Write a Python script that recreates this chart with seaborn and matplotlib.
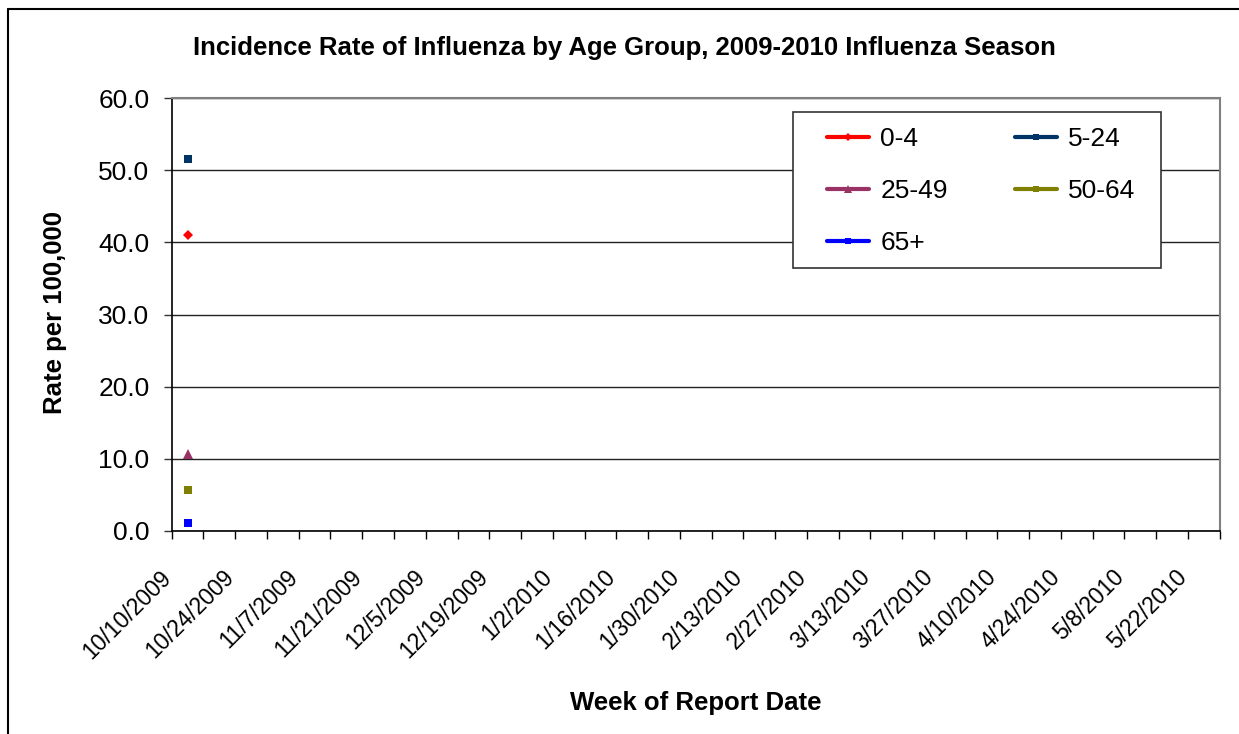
import numpy as np
import pandas as pd
import matplotlib
matplotlib.use('Agg')
import matplotlib.pyplot as plt
import seaborn as sns
from matplotlib.lines import Line2D
from matplotlib.patches import Rectangle
from matplotlib.transforms import ScaledTranslation

# weekly report dates on the category axis
weeks = ['10/10/2009', '10/17/2009', '10/24/2009', '10/31/2009', '11/7/2009',
         '11/14/2009', '11/21/2009', '11/28/2009', '12/5/2009', '12/12/2009',
         '12/19/2009', '12/26/2009', '1/2/2010', '1/9/2010', '1/16/2010',
         '1/23/2010', '1/30/2010', '2/6/2010', '2/13/2010', '2/20/2010',
         '2/27/2010', '3/6/2010', '3/13/2010', '3/20/2010', '3/27/2010',
         '4/3/2010', '4/10/2010', '4/17/2010', '4/24/2010', '5/1/2010',
         '5/8/2010', '5/15/2010', '5/22/2010']

# only the first week has been reported so far
reported = ['10/10/2009']
groups = ['0-4', '5-24', '25-49', '50-64', '65+']
rate_0_4 = [41.0]
rate_5_24 = [51.6]
rate_25_49 = [10.7]
rate_50_64 = [5.7]
rate_65 = [1.1]

colors = {'0-4': '#FF0000', '5-24': '#003366', '25-49': '#993366',
          '50-64': '#808000', '65+': '#0000FF'}
markers = {'0-4': 'D', '5-24': 's', '25-49': '^', '50-64': 's', '65+': 's'}
msizes = {'0-4': 5, '5-24': 5.5, '25-49': 6.5, '50-64': 5.5, '65+': 5.5}

rows = []
for g, vals in zip(groups, [rate_0_4, rate_5_24, rate_25_49, rate_50_64, rate_65]):
    for w, v in zip(reported, vals):
        rows.append({'week': w, 'pos': weeks.index(w), 'rate': v, 'group': g})
df = pd.DataFrame(rows)

sns.set_style('white')
plt.rcParams['font.family'] = ['Liberation Sans', 'DejaVu Sans']
plt.rcParams['text.color'] = 'black'
plt.rcParams['xtick.color'] = 'black'
plt.rcParams['ytick.color'] = 'black'
plt.rcParams['axes.labelcolor'] = 'black'

fig = plt.figure(figsize=(12.39, 7.34), dpi=100)
ax = fig.add_axes([171.7 / 1239, 1 - 531 / 734, 1048 / 1239, 433 / 734])

for g in groups:
    sub = df[df['group'] == g]
    sns.lineplot(data=sub, x='pos', y='rate', ax=ax, color=colors[g],
                 marker=markers[g], markersize=msizes[g], markeredgewidth=0,
                 linewidth=2.5, legend=False)

ax.set_xlim(-0.5, len(weeks) - 0.5)
ax.set_ylim(0, 60)
ax.set_yticks(np.arange(0, 61, 10))
ax.set_yticklabels([f'{v:.1f}' for v in np.arange(0, 61, 10)], fontsize=19)
ax.yaxis.grid(True, color='#222222', linewidth=1)
ax.set_axisbelow(True)

pos = np.arange(0, len(weeks), 2)
ax.set_xticks(pos)
ax.set_xticklabels([weeks[i] for i in pos], rotation=45, ha='right', va='top', fontsize=16.5)
ax.set_xticks(np.arange(-0.5, len(weeks)), minor=True)
ax.tick_params(axis='x', which='major', length=0, pad=25)
ax.tick_params(axis='x', which='minor', length=6, width=1, color='black', direction='out', bottom=True)
ax.tick_params(axis='y', length=6, width=1, color='#333333', direction='out', left=True, pad=10)
off = ScaledTranslation(-12 / 100, 0, fig.dpi_scale_trans)
for lab in ax.get_xticklabels():
    lab.set_transform(lab.get_transform() + off)

ax.set_xlabel('')
ax.set_ylabel('')
for s in ['left', 'bottom']:
    ax.spines[s].set_color('black')
    ax.spines[s].set_linewidth(1.2)
for s in ['top', 'right']:
    ax.spines[s].set_color('#808080')
    ax.spines[s].set_linewidth(1.5)

# legend, filled row by row like the original
order = ['0-4', '25-49', '65+', '5-24', '50-64']
handles = [Line2D([0], [0], color=colors[g], marker=markers[g], markersize=msizes[g] - 1,
                  markeredgewidth=0, linewidth=3) for g in order]
leg = ax.legend(handles, order, ncol=2, frameon=False, fontsize=19,
                loc='upper left', bbox_to_anchor=(0.6253, 0.932),
                borderpad=0, borderaxespad=0, handlelength=1.6,
                handletextpad=0.42, columnspacing=2.54, labelspacing=1.06)
ax.add_patch(Rectangle((0.5933, 0.6074), 0.3511, 0.3603, transform=ax.transAxes,
                       fill=True, facecolor='white', edgecolor='#333333',
                       linewidth=1.2, zorder=4))
leg.set_zorder(5)

fig.text(624 / 1239, 1 - 48 / 734, 'Incidence Rate of Influenza by Age Group, 2009-2010 Influenza Season',
         ha='center', va='center', fontsize=18.5, fontweight='bold')
fig.text(55 / 1239, 1 - 312 / 734, 'Rate per 100,000', rotation=90,
         ha='center', va='center', fontsize=18.5, fontweight='bold')
fig.text(696 / 1239, 1 - 703 / 734, 'Week of Report Date',
         ha='center', va='center', fontsize=18.5, fontweight='bold')

# outer chart frame
fig.add_artist(Line2D([8 / 1239, 1], [1 - 9 / 734, 1 - 9 / 734], transform=fig.transFigure,
                      color='black', linewidth=1.5))
fig.add_artist(Line2D([8 / 1239, 8 / 1239], [0, 1 - 9 / 734], transform=fig.transFigure,
                      color='black', linewidth=1.5))

fig.savefig('out.png', dpi=100)
